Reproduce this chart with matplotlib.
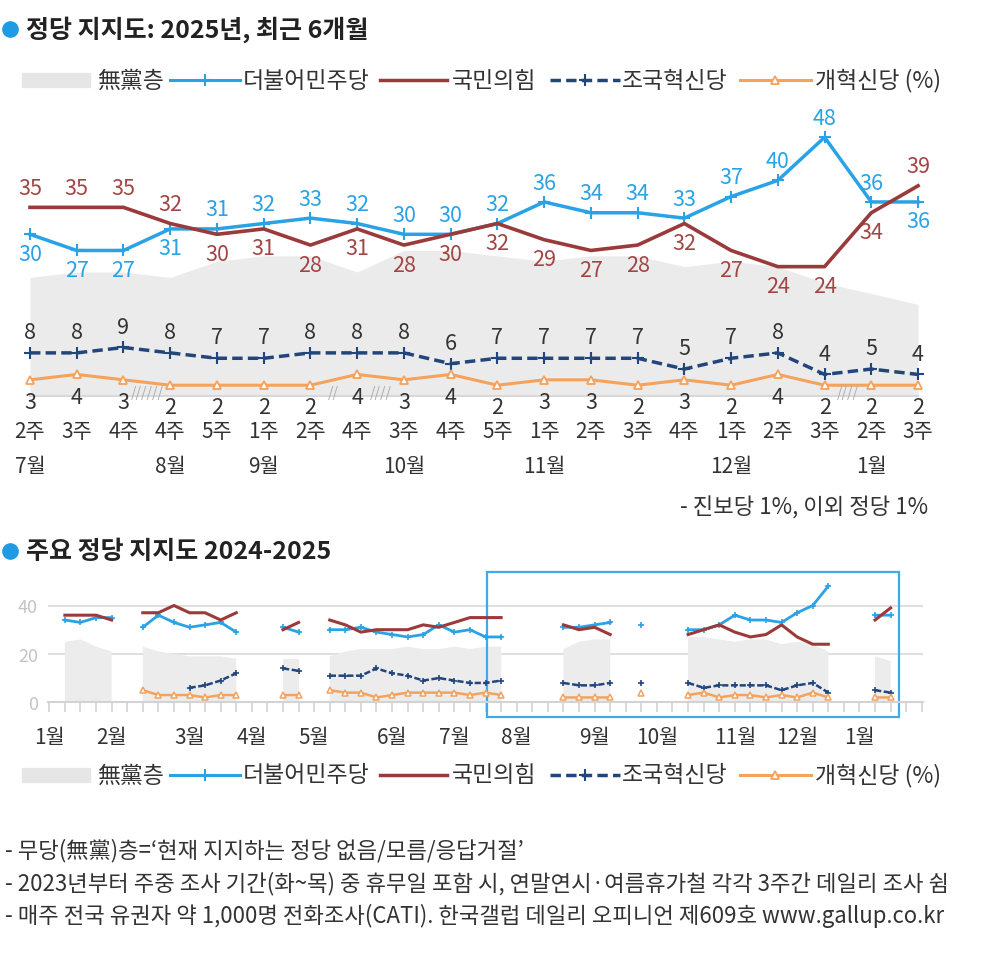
import numpy as np
import matplotlib
matplotlib.use('Agg')
import matplotlib.pyplot as plt
from matplotlib.lines import Line2D
from matplotlib.patches import Rectangle

plt.rcParams['font.family'] = ['Noto Sans CJK KR', 'DejaVu Sans']

nan = np.nan

# weekly series, 57 week slots (gaps = no survey)
minjoo = [nan, 34, 33, 35, 35, nan, 31, 36, 33, 31, 32, 33, 29, nan, nan, 31, 29, nan,
          30, 30, 31, 29, 28, 27, 28, 32, 29, 30, 27, 27, nan, nan, nan,
          31, 31, 32, 33, nan, 32, nan, nan,
          30, 30, 32, 36, 34, 34, 33, 37, 40, 48, nan, nan, 36, 36, nan, nan]
kukhim = [nan, 36, 36, 36, 34, nan, 37, 37, 40, 37, 37, 34, 37, nan, nan, 30, 33, nan,
          34, 32, 29, 30, 30, 30, 32, 31, 33, 35, 35, 35, nan, nan, nan,
          32, 30, 31, 28, nan, 31, nan, nan,
          28, 30, 32, 29, 27, 28, 32, 27, 24, 24, nan, nan, 34, 39, nan, nan]
jokuk = [nan, nan, nan, nan, nan, nan, nan, nan, nan, 6, 7, 9, 12, nan, nan, 14, 13, nan,
         11, 11, 11, 14, 12, 11, 9, 10, 9, 8, 8, 9, nan, nan, nan,
         8, 7, 7, 8, nan, 8, nan, nan,
         8, 6, 7, 7, 7, 7, 5, 7, 8, 4, nan, nan, 5, 4, nan, nan]
gaehyuk = [nan, nan, nan, nan, nan, nan, 5, 3, 3, 3, 2, 3, 3, nan, nan, 3, 3, nan,
           5, 4, 4, 2, 3, 4, 4, 4, 4, 3, 4, 3, nan, nan, nan,
           2, 2, 2, 2, nan, 4, nan, nan,
           3, 4, 2, 3, 3, 2, 3, 2, 4, 2, nan, nan, 2, 2, nan, nan]
noparty = [nan, 25, 26, 23, 21, nan, 23, 21, 20, 19, 19, 19, 18, nan, nan, 18, 18, nan,
           19, 21, 22, 22, 22, 23, 22, 22, 23, 22, 23, 23, nan, nan, nan,
           22, 25, 26, 26, nan, 23, nan, nan,
           27, 27, 26, 25, 26, 26, 24, 25, 24, 21, nan, nan, 19, 17, nan, nan]

# last 6 months shown in the top chart
recent_idx = [27, 28, 29, 33, 34, 35, 36, 38, 41, 42, 43, 44, 45, 46, 47, 48, 49, 50, 53, 54]
week_labels = ['2주', '3주', '4주', '4주', '5주', '1주', '2주', '4주', '3주', '4주',
               '5주', '1주', '2주', '3주', '4주', '1주', '2주', '3주', '2주', '3주']
top_months = {0: '7월', 3: '8월', 5: '9월', 8: '10월', 11: '11월', 15: '12월', 18: '1월'}
minjoo_side = [-1, -1, -1, -1] + [1] * 15 + [-1]
kukhim_side = [1, 1, 1, 1] + [-1] * 15 + [1]
breaks = [(2.5, '//////'), (6.5, '//'), (7.5, '////'), (17.5, '////')]

bottom_month_pos = [0, 4, 9, 13, 17, 22, 26, 30, 35, 39, 44, 48, 52]
bottom_month_lab = ['1월', '2월', '3월', '4월', '5월', '6월', '7월', '8월', '9월',
                    '10월', '11월', '12월', '1월']

BLUE = '#29a2e6'
RED = '#9b3a3a'
NAVY = '#22467b'
ORANGE = '#f5a25c'
GRAY = '#ebebeb'
TXT = '#333333'

W, H = 998, 954
fig = plt.figure(figsize=(W / 100, H / 100), dpi=100)


def fx(px):
    return px / W


def fy(py):
    return 1 - py / H


def title(y, text):
    fig.add_artist(Line2D([fx(10)], [fy(y)], marker='o', ms=11, color='#1f9be6',
                          transform=fig.transFigure))
    fig.text(fx(26), fy(y), text, fontsize=18, weight='bold', va='center', color='#222222')


def legend(y):
    fs = 16.5
    fig.add_artist(Rectangle((fx(22), fy(y + 7)), 68 / W, 14 / H, color='#e6e6e6',
                             transform=fig.transFigure))
    fig.text(fx(97), fy(y), '無黨층', fontsize=fs, va='center', color=TXT)
    fig.add_artist(Line2D([fx(170), fx(240)], [fy(y), fy(y)], color=BLUE, lw=2.2,
                          transform=fig.transFigure))
    fig.add_artist(Line2D([fx(205)], [fy(y)], color=BLUE, marker='+', ms=8, mew=1.5,
                          transform=fig.transFigure))
    fig.text(fx(243), fy(y), '더불어민주당', fontsize=fs, va='center', color=TXT)
    fig.add_artist(Line2D([fx(380), fx(447)], [fy(y), fy(y)], color=RED, lw=2.5,
                          transform=fig.transFigure))
    fig.text(fx(452), fy(y), '국민의힘', fontsize=fs, va='center', color=TXT)
    fig.add_artist(Line2D([fx(550), fx(620)], [fy(y), fy(y)], color=NAVY, lw=2.5,
                          ls=(0, (3, 1.5)), transform=fig.transFigure))
    fig.add_artist(Line2D([fx(585)], [fy(y)], color=NAVY, marker='+', ms=8, mew=1.5,
                          transform=fig.transFigure))
    fig.text(fx(622), fy(y), '조국혁신당', fontsize=fs, va='center', color=TXT)
    fig.add_artist(Line2D([fx(740), fx(811)], [fy(y), fy(y)], color=ORANGE, lw=2.2,
                          transform=fig.transFigure))
    fig.add_artist(Line2D([fx(775)], [fy(y)], color=ORANGE, marker='^', ms=6, mfc='white',
                          mew=1.3, transform=fig.transFigure))
    fig.text(fx(815), fy(y), '개혁신당 (%)', fontsize=fs, va='center', color=TXT)


# ---------------- top chart ----------------
title(30, '정당 지지도: 2025년, 최근 6개월')
legend(81)

x0, dx = 30, 46.74
y0, dy = 397, 5.39
L, R, T, B = 5, 945, 110, 400
ax = fig.add_axes([fx(L), fy(B), (R - L) / W, (B - T) / H])
ax.set_xlim((L - x0) / dx, (R - x0) / dx)
ax.set_ylim((y0 - B) / dy, (y0 - T) / dy)
ax.axis('off')

x = np.arange(len(recent_idx))
mj = np.array(minjoo)[recent_idx]
kh = np.array(kukhim)[recent_idx]
jk = np.array(jokuk)[recent_idx]
gh = np.array(gaehyuk)[recent_idx]
npt = [22, 23, 23, 22, 25, 26, 26, 23, 27, 27, 26, 25, 26, 26, 24, 25, 24, 21, 19, 17]

ax.fill_between(x, 0, npt, color=GRAY, lw=0)
ax.plot([0, x[-1]], [0, 0], color='#d8d8d8', lw=1.5)
ax.plot(x, mj, color=BLUE, lw=2.5, marker='+', ms=9, mew=1.5)
ax.plot(x, kh, color=RED, lw=2.6)
ax.plot(x, jk, color=NAVY, lw=2.5, ls=(0, (3, 1.5)), marker='+', ms=8, mew=1.5)
ax.plot(x, gh, color=ORANGE, lw=2.2, marker='^', ms=6, mfc='white', mew=1.3)

for i in x:
    ax.annotate(f'{mj[i]:.0f}', (i, mj[i]), xytext=(0, 14 * minjoo_side[i]),
                textcoords='offset points', ha='center', va='center',
                fontsize=15.5, color=BLUE)
    ax.annotate(f'{kh[i]:.0f}', (i, kh[i]), xytext=(0, 14 * kukhim_side[i]),
                textcoords='offset points', ha='center', va='center',
                fontsize=15.5, color='#a24545')
    ax.annotate(f'{jk[i]:.0f}', (i, jk[i]), xytext=(0, 15), textcoords='offset points',
                ha='center', va='center', fontsize=15.5, color=TXT)
    ax.annotate(f'{gh[i]:.0f}', (i, gh[i]), xytext=(0, -16), textcoords='offset points',
                ha='center', va='center', fontsize=15.5, color=TXT)
    ax.text(i, (y0 - 432) / dy, week_labels[i], ha='center', va='center',
            fontsize=15, color=TXT, clip_on=False)

for i, m in top_months.items():
    ax.text(i, (y0 - 467) / dy, m, ha='center', va='center', fontsize=15,
            color=TXT, clip_on=False)

for pos, s in breaks:
    ax.text(pos, 0.8, s, ha='center', va='center', fontsize=10, style='italic',
            color='#aaaaaa')

fig.text(fx(928), fy(508), '- 진보당 1%, 이외 정당 1%', ha='right', va='center',
         fontsize=16, color=TXT)

# ---------------- bottom chart ----------------
title(552, '주요 정당 지지도 2024-2025')
legend(776)

bx0, bdx = 49.3, 15.58
by0, bdy = 703.3, 2.42
k = np.arange(len(minjoo))
lft = bx0 - 0.1 * bdx
rgt = bx0 + 56.1 * bdx
top = 575
ax2 = fig.add_axes([fx(lft), fy(by0), (rgt - lft) / W, (by0 - top) / H])
ax2.set_xlim(-0.1, 56.1)
ax2.set_ylim(0, (by0 - top) / bdy)
for sp in ['top', 'left', 'right']:
    ax2.spines[sp].set_visible(False)
ax2.spines['bottom'].set_color('#d3d3d3')
ax2.spines['bottom'].set_linewidth(1.5)
ax2.set_xticks(k)
ax2.set_xticklabels([])
ax2.tick_params(axis='x', length=7, width=1.2, color='#d3d3d3', direction='out')
ax2.set_yticks([0, 20, 40])
ax2.tick_params(axis='y', length=0, pad=7, labelsize=13, labelcolor='#c4c4c4')
ax2.grid(axis='y', color='#dcdcdc', lw=1.3)
ax2.set_axisbelow(True)

ax2.fill_between(k, 0, noparty, color='#ececec', lw=0)
ax2.plot(k, minjoo, color=BLUE, lw=2, marker='+', ms=4, mew=1.2)
ax2.plot(k, kukhim, color=RED, lw=2.2)
ax2.plot(k, jokuk, color=NAVY, lw=1.8, ls=(0, (2.5, 1)), marker='+', ms=4, mew=1.2)
ax2.plot(k, gaehyuk, color=ORANGE, lw=1.8, marker='^', ms=5, mfc='white', mew=1.1)

for p, m in zip(bottom_month_pos, bottom_month_lab):
    ax2.text(p, (by0 - 738) / bdy, m, ha='center', va='center', fontsize=15,
             color=TXT, clip_on=False)

box_l = (487 - bx0) / bdx
box_r = (899 - bx0) / bdx
box_b = (by0 - 718) / bdy
box_t = (by0 - 573) / bdy
ax2.add_patch(Rectangle((box_l, box_b), box_r - box_l, box_t - box_b, fill=False,
                        ec='#3fa9ea', lw=1.6, clip_on=False))

# ---------------- footnotes ----------------
notes = ['- 무당(無黨)층=\u2018현재 지지하는 정당 없음/모름/응답거절\u2019',
         '- 2023년부터 주중 조사 기간(화~목) 중 휴무일 포함 시, 연말연시·여름휴가철 각각 3주간 데일리 조사 쉼',
         '- 매주 전국 유권자 약 1,000명 전화조사(CATI). 한국갤럽 데일리 오피니언 제609호 www.gallup.co.kr']
for yy, s in zip([851, 884, 916], notes):
    fig.text(fx(5), fy(yy), s, va='center', fontsize=16, color=TXT)

fig.savefig('out.png', dpi=100, facecolor='white')
